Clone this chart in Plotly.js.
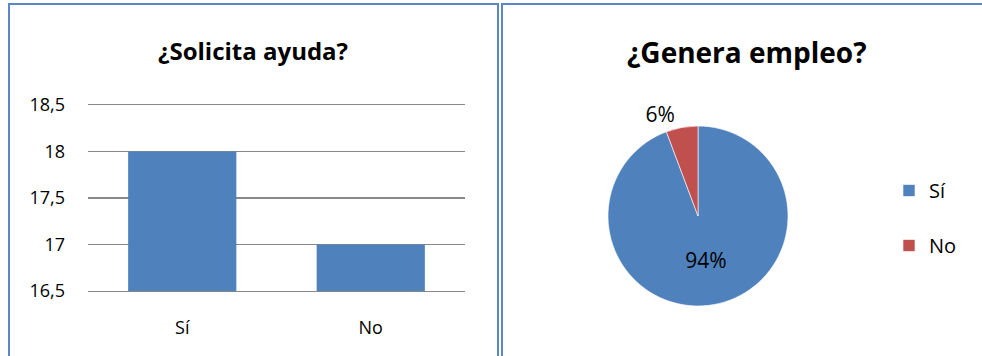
<!DOCTYPE html>
<html>
<head>
<meta charset="utf-8">
<script src="https://cdn.plot.ly/plotly-3.0.1.min.js"></script>
<style>
html,body{margin:0;padding:0;background:#fff;}
#chart{width:982px;height:356px;}
</style>
</head>
<body>
<div id="chart"></div>
<script>
// Data
const barTitle = "¿Solicita ayuda?";
const barCategories = ["Sí", "No"];
const barValues = [18, 17];
const yTickVals = [16.5, 17, 17.5, 18, 18.5];

const pieTitle = "¿Genera empleo?";
const pieLabels = ["Sí", "No"];
const pieValues = [33, 2];

const blue = "#4F81BD";
const red = "#C0504D";
const borderColor = "#5B87C5";
const W = 982, H = 356;
const px = v => v / W;
const py = v => (H - v) / H;

// legend entries get an empty second line so the items are spaced like the reference
const pieLegendLabels = pieLabels.map(l => l + "<br>\u00a0");

const traces = [
  {
    type: "bar",
    x: barCategories,
    y: barValues,
    marker: {color: blue},
    xaxis: "x", yaxis: "y",
    showlegend: false,
    hoverinfo: "x+y"
  },
  {
    type: "pie",
    labels: pieLegendLabels,
    values: pieValues,
    sort: false,
    direction: "clockwise",
    rotation: 0,
    marker: {colors: [blue, red], line: {color: "#ffffff", width: 0.6}},
    texttemplate: "%{percent:.0%}",
    textposition: ["inside", "outside"],
    insidetextorientation: "horizontal",
    textfont: {family: "Open Sans, sans-serif", size: 21, color: "#000"},
    domain: {x: [px(608), px(788)], y: [py(306), py(126)]},
    showlegend: true
  }
];

const layout = {
  width: W, height: H,
  margin: {l: 0, r: 0, t: 0, b: 0},
  paper_bgcolor: "#fff",
  plot_bgcolor: "#fff",
  separators: ",.",
  font: {family: "Open Sans, sans-serif", size: 18, color: "#000"},
  bargap: 0.426,
  xaxis: {
    domain: [px(88), px(465)],
    anchor: "y",
    showgrid: false,
    zeroline: false,
    showline: true,
    mirror: true,
    linecolor: "#888888",
    linewidth: 1.3,
    ticks: "",
    ticklabelstandoff: 20,
    tickfont: {size: 18, color: "#000"}
  },
  yaxis: {
    domain: [py(291), py(105)],
    anchor: "x",
    range: [16.5, 18.5],
    tickvals: yTickVals,
    showgrid: true,
    gridcolor: "#888888",
    gridwidth: 1.3,
    zeroline: false,
    showline: false,
    ticks: "",
    ticklabelstandoff: 22,
    tickfont: {size: 18, color: "#000"}
  },
  showlegend: true,
  legend: {
    x: px(889), xanchor: "left",
    y: py(171), yanchor: "top",
    valign: "top",
    font: {size: 20, color: "#000"},
    bgcolor: "rgba(0,0,0,0)"
  },
  annotations: [
    {text: "<b>" + barTitle + "</b>", xref: "paper", yref: "paper",
     x: px(253), y: py(50), xanchor: "center", yanchor: "middle",
     showarrow: false, font: {size: 24, color: "#000"}},
    {text: "<b>" + pieTitle + "</b>", xref: "paper", yref: "paper",
     x: px(747), y: py(52), xanchor: "center", yanchor: "middle",
     showarrow: false, font: {size: 28, color: "#000"}}
  ],
  shapes: [
    {type: "rect", xref: "paper", yref: "paper",
     x0: px(9), x1: px(498), y0: py(370), y1: py(4),
     line: {color: borderColor, width: 2}, fillcolor: "rgba(0,0,0,0)", layer: "above"},
    {type: "rect", xref: "paper", yref: "paper",
     x0: px(502), x1: px(990), y0: py(370), y1: py(4),
     line: {color: borderColor, width: 2}, fillcolor: "rgba(0,0,0,0)", layer: "above"}
  ]
};

Plotly.newPlot("chart", traces, layout, {displayModeBar: false, staticPlot: true});
</script>
</body>
</html>
